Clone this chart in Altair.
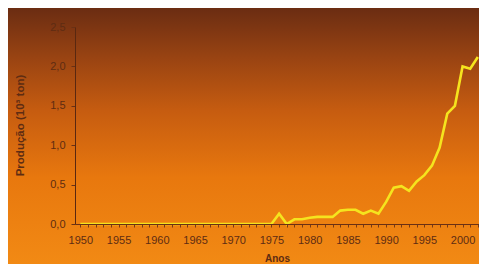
import altair as alt
import pandas as pd

years = list(range(1950, 2003))
values = [0.0] * 26 + [
    0.13, 0.0, 0.06, 0.06, 0.08, 0.09, 0.09, 0.09, 0.17, 0.18,
    0.18, 0.13, 0.17, 0.13, 0.28, 0.46, 0.48, 0.42, 0.54, 0.62,
    0.74, 0.97, 1.40, 1.50, 2.00, 1.97, 2.12,
]
x_ticks = list(range(1950, 2003))
y_ticks = [0.0, 0.5, 1.0, 1.5, 2.0, 2.5]

df = pd.DataFrame({"Ano": years, "Producao": values})
bg_df = pd.DataFrame({"a": [0]})

W, H = 404, 197
PAD = {"left": 67, "top": 19, "right": 0, "bottom": 40}

gradient = alt.Gradient(
    gradient="linear", x1=0, y1=0, x2=0, y2=1,
    stops=[
        alt.GradientStop(color="#6a2c12", offset=0.0),
        alt.GradientStop(color="#9a4412", offset=0.2),
        alt.GradientStop(color="#c65c10", offset=0.4),
        alt.GradientStop(color="#e8780e", offset=0.66),
        alt.GradientStop(color="#f28a14", offset=1.0),
    ],
)

bg = alt.Chart(bg_df).mark_rect(fill=gradient, strokeWidth=0).encode(
    x=alt.value(-PAD["left"] - 2),
    x2=alt.value(W + PAD["right"] + 2),
    y=alt.value(-PAD["top"] - 1),
    y2=alt.value(H + PAD["bottom"] + 2),
)

label_color = "#5e2c12"

line = alt.Chart(df).mark_line(color="#f5e41e", strokeWidth=2.6).encode(
    x=alt.X(
        "Ano:Q",
        scale=alt.Scale(domain=[1949.3, 2002.15], nice=False, zero=False),
        axis=alt.Axis(
            values=x_ticks,
            labelExpr="datum.value % 5 == 0 ? datum.label : ''",
            format="d",
            title="Anos",
            titleX=202, titleY=34, titleBaseline="middle", titleAlign="center",
            titleFont="Liberation Sans", titleFontSize=10, titleFontWeight="bold",
            titleColor=label_color,
            labelFont="Liberation Sans", labelFontSize=11, labelColor=label_color,
            labelPadding=7, tickSize=3, tickColor="#7a3a14", tickWidth=1,
            domainColor="#6a3014", domainWidth=1, grid=False, labelOverlap=False,
            labelFlush=False, zindex=1,
        ),
    ),
    y=alt.Y(
        "Producao:Q",
        scale=alt.Scale(domain=[0, 2.5], nice=False),
        axis=alt.Axis(
            values=y_ticks,
            labelExpr="replace(format(datum.value, '.1f'), '.', ',')",
            title="Produção (10³ ton)",
            titleX=-55, titleY=98, titleAngle=-90, titleBaseline="middle",
            titleAlign="center",
            titleFont="Liberation Sans", titleFontSize=11.5, titleFontWeight="bold",
            titleColor=label_color,
            labelFont="Liberation Sans", labelFontSize=11, labelColor=label_color,
            labelPadding=6, tickSize=4, tickColor="#6a3014", tickWidth=1,
            domainColor="#5a2810", domainWidth=1, grid=False, zindex=1,
            labelFlush=False,
        ),
    ),
)

chart = alt.layer(bg, line).properties(
    width=W, height=H,
    autosize=alt.AutoSizeParams(type="none"),
    padding=PAD,
    background="#6a2c12",
).configure_view(stroke=None)

chart.save("out.html", embed_options={"renderer": "svg", "actions": False})
